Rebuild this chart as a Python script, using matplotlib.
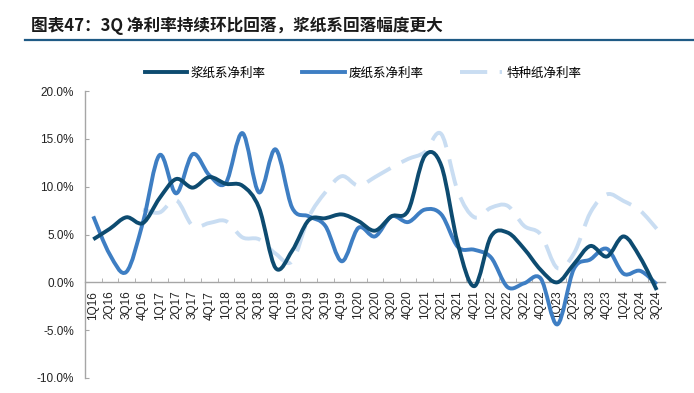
import numpy as np
import matplotlib
matplotlib.use("Agg")
import matplotlib.pyplot as plt
from matplotlib.path import Path
from matplotlib.patches import PathPatch
from matplotlib.lines import Line2D

plt.rcParams['font.family'] = ['Liberation Sans', 'Noto Sans CJK SC', 'DejaVu Sans']

# --- dados ---
quarters = ['1Q16', '2Q16', '3Q16', '4Q16', '1Q17', '2Q17', '3Q17', '4Q17',
            '1Q18', '2Q18', '3Q18', '4Q18', '1Q19', '2Q19', '3Q19', '4Q19',
            '1Q20', '2Q20', '3Q20', '4Q20', '1Q21', '2Q21', '3Q21', '4Q21',
            '1Q22', '2Q22', '3Q22', '4Q22', '1Q23', '2Q23', '3Q23', '4Q23',
            '1Q24', '2Q24', '3Q24']
pulp = [4.5, 5.6, 6.8, 6.2, 8.8, 10.8, 9.9, 11.0, 10.3, 10.1, 7.8, 1.5,
        3.3, 6.5, 6.7, 7.1, 6.4, 5.4, 6.9, 7.5, 13.2, 12.2, 4.0, -0.4,
        4.8, 5.2, 3.5, 1.3, 0.0, 1.9, 3.8, 2.7, 4.8, 2.6, -0.8]
waste = [6.9, 2.9, 1.1, 6.3, 13.3, 9.3, 13.4, 11.2, 10.4, 15.6, 9.4, 13.9,
         7.8, 6.9, 5.9, 2.2, 5.7, 4.8, 6.9, 6.3, 7.6, 7.1, 3.7, 3.4,
         2.6, -0.5, -0.1, 0.4, -4.4, 1.4, 2.4, 3.5, 0.9, 1.2, -0.2]
special = [np.nan, np.nan, np.nan, 7.6, 7.3, 8.6, 5.9, 6.2, 6.4, 4.7, 4.5, 3.0,
           2.2, 6.8, 9.4, 11.1, 10.1, 11.0, 12.0, 12.9, 13.6, 15.5, 9.5, 6.8,
           7.8, 8.0, 5.9, 5.0, 1.5, 3.0, 7.3, 9.2, 8.5, 7.5, 5.6]
names = ['浆纸系净利率', '废纸系净利率', '特种纸净利率']

C_PULP, C_WASTE, C_SPEC = '#0D4B70', '#3E7EC3', '#C9DDF2'
DASH = (0, (7, 3.2))


def smooth_path(yv):
    # linha suavizada (Catmull-Rom -> Bezier cúbica), estilo Excel
    y = np.asarray(yv, float); x = np.arange(len(y), dtype=float)
    ok = ~np.isnan(y)
    P = np.column_stack([x[ok], y[ok]]); n = len(P)
    verts, codes = [P[0]], [Path.MOVETO]
    for i in range(n - 1):
        p0 = P[i - 1] if i > 0 else P[i]
        p3 = P[i + 2] if i + 2 < n else P[i + 1]
        c1 = P[i] + (P[i + 1] - p0) / 6
        c2 = P[i + 1] - (p3 - P[i]) / 6
        verts += [c1, c2, P[i + 1]]; codes += [Path.CURVE4] * 3
    return Path(verts, codes)


fig = plt.figure(figsize=(6.94, 3.93), dpi=100)
ax = fig.add_axes([85/694, 1-378/393, (665-85)/694, (378-91)/393])

for vals, col, ls, z in [(special, C_SPEC, DASH, 2), (waste, C_WASTE, '-', 3), (pulp, C_PULP, '-', 4)]:
    ax.add_patch(PathPatch(smooth_path(vals), fill=False, edgecolor=col, lw=2.8,
                           linestyle=ls, capstyle='butt', joinstyle='round', zorder=z))

ax.set_xlim(-0.5, len(quarters) - 0.5); ax.set_ylim(-10, 20)
for s in ('top', 'right'): ax.spines[s].set_visible(False)
ax.spines['bottom'].set_position(('data', 0))
for s in ('left', 'bottom'): ax.spines[s].set_color('#A6A6A6'); ax.spines[s].set_linewidth(1)

ax.set_yticks(range(-10, 21, 5))
ax.set_yticklabels([f"{v:.1f}%" for v in range(-10, 21, 5)])
ax.tick_params(axis='y', direction='in', length=3, color='#A6A6A6', labelsize=8.5, pad=8, labelcolor='#222222')
ax.set_xticks(range(len(quarters)))
ax.set_xticklabels(quarters, rotation=90, va='top')
ax.set_xticks(np.arange(len(quarters) - 1) + 0.5, minor=True)
ax.tick_params(axis='x', which='major', length=0, labelsize=8.5, pad=6, labelcolor='#222222')
ax.tick_params(axis='x', which='minor', direction='in', length=3, color='#A6A6A6')

handles = [Line2D([], [], color=C_PULP, lw=2.8),
           Line2D([], [], color=C_WASTE, lw=2.8),
           Line2D([], [], color=C_SPEC, lw=2.8, linestyle=DASH)]
fig.legend(handles, names, loc='center', bbox_to_anchor=(0.523, 1-73/393), ncol=3, frameon=False,
           handlelength=3.4, handletextpad=0.3, columnspacing=2.9,
           prop={'family': ['Noto Sans CJK SC', 'DejaVu Sans'], 'size': 9})

fig.text(31/694, 1-26/393, '图表47：3Q 净利率持续环比回落，浆纸系回落幅度更大',
         family=['Noto Sans CJK SC', 'DejaVu Sans'], fontsize=12, fontweight='bold',
         color='#1A1A1A', va='center', ha='left')
fig.add_artist(Line2D([25/694, 1.0], [1-40/393, 1-40/393], color='#1F5A85', lw=1.6))

fig.savefig("out.png", dpi=100)
